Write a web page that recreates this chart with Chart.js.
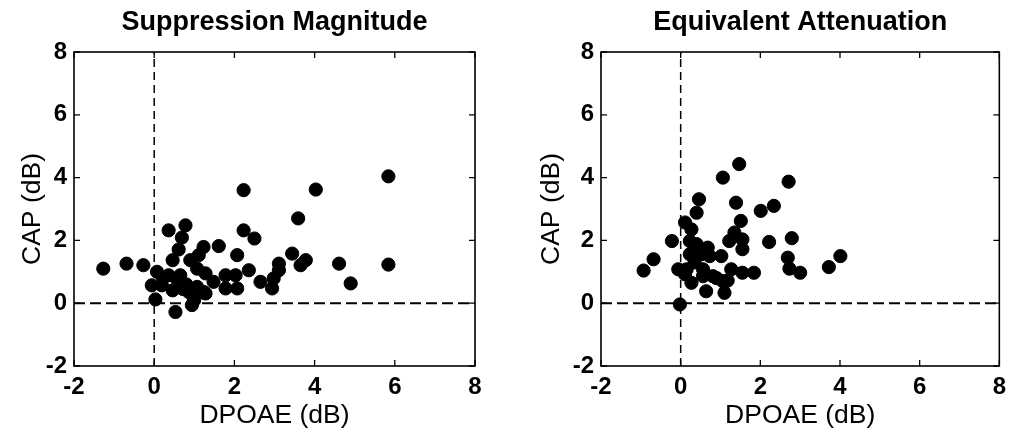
<!DOCTYPE html>
<html>
<head>
<meta charset="utf-8">
<script src="https://cdn.jsdelivr.net/npm/chart.js@4"></script>
<style>
  body { margin: 0; background: #fff; width: 1013px; height: 433px; position: relative; overflow: hidden; }
  canvas { position: absolute; top: 0; }
</style>
</head>
<body>
<canvas id="supp" width="506" height="433" style="left:0"></canvas>
<canvas id="atten" width="507" height="433" style="left:506px"></canvas>
<script>
// Suppression magnitude: DPOAE change vs CAP change (dB)
const suppDpoae = [
  -1.27, -0.69, -0.27, 0.36, 0.78, 0.69, 0.61, 0.46, 0.07, -0.06,
  0.03, 0.36, 0.46, 0.19, 0.65, 0.53, 0.94, 0.86, 1.07, 1.23,
  0.90, 1.11, 1.23, 1.07, 1.28, 1.48, 1.61, 1.78, 1.78, 2.03,
  2.07, 2.07, 2.23, 2.23, 2.50, 2.36, 2.65, 2.94, 2.98, 3.11,
  3.11, 3.44, 3.65, 3.78, 3.59, 4.03, 4.61, 4.90, 5.84, 5.84,
  0.98, 1.28, 0.80, 0.58, 0.22, 0.72, 1.00,
];
const suppCap = [
  1.10, 1.26, 1.21, 2.32, 2.48, 2.09, 1.71, 1.37, 1.00, 0.57,
  0.12, 0.89, 0.41, 0.57, 0.89, -0.28, -0.06, 0.36, 0.52, 0.36,
  1.37, 1.53, 1.79, 1.10, 0.95, 0.68, 1.82, 0.89, 0.47, 0.89,
  0.47, 1.53, 3.60, 2.32, 2.06, 1.05, 0.68, 0.47, 0.79, 1.05,
  1.26, 1.58, 1.21, 1.37, 2.70, 3.62, 1.26, 0.63, 4.04, 1.23,
  0.20, 0.31, 0.60, 0.75, 0.80, 0.45, 0.10,
];

// Equivalent attenuation
const attDpoae = [
  -0.93, -0.68, -0.22, -0.02, -0.06, 0.11, 0.27, 0.40, 0.46, 0.23,
  0.40, 0.23, 0.52, 0.68, 0.73, 1.02, 0.15, 0.11, 0.27, 0.56,
  0.56, 0.81, 0.64, 1.06, 1.10, 1.27, 1.22, 1.35, 1.55, 1.55,
  1.51, 1.39, 1.06, 1.47, 1.55, 1.84, 2.01, 2.34, 2.22, 2.71,
  2.79, 2.69, 2.73, 3.00, 3.72, 4.01, 1.18, 0.35, 0.90,
];
const attCap = [
  1.04, 1.40, 1.98, -0.04, 1.08, 2.57, 2.35, 2.88, 3.31, 1.98,
  1.88, 1.56, 1.56, 1.77, 1.50, 1.50, 1.08, 0.92, 0.65, 1.08,
  0.86, 0.86, 0.38, 0.70, 0.33, 1.08, 1.98, 2.25, 2.03, 1.72,
  2.62, 3.20, 4.00, 4.43, 0.97, 0.97, 2.94, 3.10, 1.95, 3.87,
  2.07, 1.45, 1.10, 0.97, 1.15, 1.50, 0.72, 1.30, 0.80,
];

const axisTicks = [-2, 0, 2, 4, 6, 8];
const FONT = "'Liberation Sans', Arial, sans-serif";

// box around the plot area with inward ticks on all four sides
const frameTicks = {
  id: 'frameTicks',
  afterDatasetsDraw(chart) {
    const { ctx, chartArea: a, scales: { x, y } } = chart;
    const len = 6;
    ctx.save();
    ctx.strokeStyle = '#000';
    ctx.lineWidth = 1.6;
    ctx.strokeRect(a.left, a.top, a.right - a.left, a.bottom - a.top);
    ctx.lineWidth = 1.3;
    ctx.beginPath();
    for (const t of x.ticks) {
      const px = x.getPixelForValue(t.value);
      ctx.moveTo(px, a.bottom); ctx.lineTo(px, a.bottom - len);
      ctx.moveTo(px, a.top); ctx.lineTo(px, a.top + len);
    }
    for (const t of y.ticks) {
      const py = y.getPixelForValue(t.value);
      ctx.moveTo(a.left, py); ctx.lineTo(a.left + len, py);
      ctx.moveTo(a.right, py); ctx.lineTo(a.right - len, py);
    }
    ctx.stroke();
    ctx.restore();
  },
};

function axis(min, max, titleText, titlePad, fit) {
  return {
    type: 'linear',
    min,
    max,
    afterBuildTicks: (s) => { s.ticks = axisTicks.map((v) => ({ value: v })); },
    ticks: {
      color: '#000',
      padding: 7,
      font: { family: FONT, size: 24, weight: 'bold' },
    },
    grid: { display: false, drawTicks: false },
    border: { display: false },
    title: {
      display: true,
      text: titleText,
      color: '#000',
      font: { family: FONT, size: 26.5 },
      padding: titlePad,
    },
    afterFit: fit,
  };
}

function makeChart(id, titleText, xs, ys, yWidth, padRight, yTitlePad) {
  return new Chart(document.getElementById(id), {
    type: 'scatter',
    data: {
      datasets: [
        {
          data: xs.map((x, i) => ({ x, y: ys[i] })),
          backgroundColor: '#000',
          borderColor: '#000',
          pointRadius: 6.6,
          pointHoverRadius: 6.6,
          order: 0,
        },
        {
          data: [{ x: -2, y: 0 }, { x: 8, y: 0 }],
          showLine: true,
          borderColor: '#000',
          borderWidth: 2,
          borderDash: [11, 5],
          pointRadius: 0,
          order: 1,
        },
        {
          data: [{ x: 0, y: -2 }, { x: 0, y: 8 }],
          showLine: true,
          borderColor: '#000',
          borderWidth: 1.5,
          borderDash: [8, 5],
          pointRadius: 0,
          order: 1,
        },
      ],
    },
    options: {
      responsive: false,
      animation: false,
      events: [],
      layout: { padding: { top: 0, right: padRight, bottom: 0, left: 0 } },
      plugins: {
        legend: { display: false },
        tooltip: { enabled: false },
        title: {
          display: true,
          text: titleText,
          fullSize: false,
          color: '#000',
          font: { family: FONT, size: 27, weight: 'bold' },
          padding: { top: 6, bottom: 13.6 },
        },
      },
      scales: {
        x: axis(-2, 8, 'DPOAE (dB)', { top: 0, bottom: 1 }, (s) => { s.height = 67; }),
        y: axis(-2, 8, 'CAP (dB)', { top: yTitlePad, bottom: 0 }, (s) => { s.width = yWidth; }),
      },
    },
    plugins: [frameTicks],
  });
}

makeChart('supp', 'Suppression Magnitude', suppDpoae, suppCap, 74, 31, 17);
makeChart('atten', 'Equivalent Attenuation', attDpoae, attCap, 95, 10, 30);
</script>
</body>
</html>
